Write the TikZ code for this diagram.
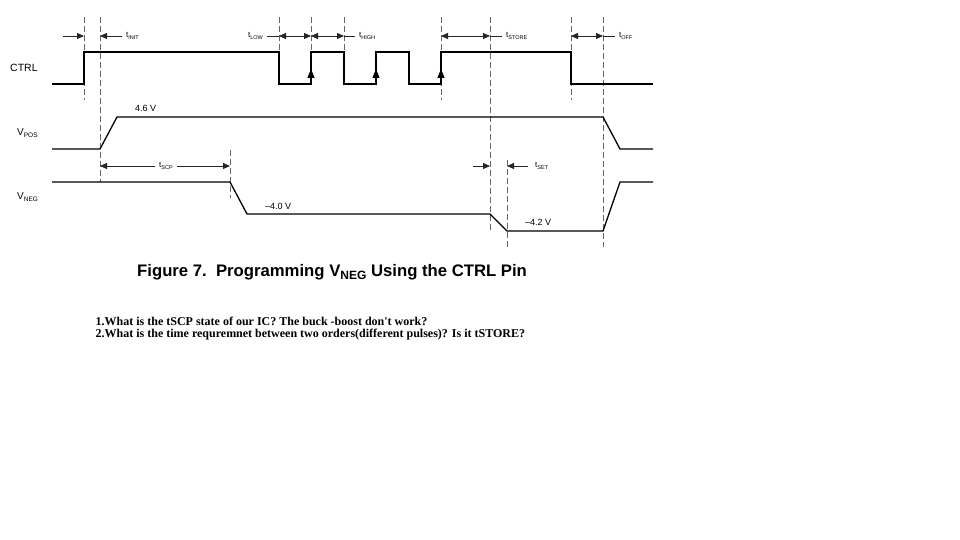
\documentclass[tikz,border=0pt]{standalone}
\usepackage{fontspec}
\setmainfont{Liberation Sans}
\newfontfamily\qfont{Liberation Serif}
\usetikzlibrary{arrows.meta}
\def\tsub#1{t\raisebox{-0.3ex}{\fontsize{5.5}{6}\selectfont #1}}
\def\vsub#1{V\raisebox{-0.3ex}{\fontsize{6.5}{7}\selectfont #1}}
\tikzset{
	sig/.style={line width=1.3pt, line join=miter},
	guide/.style={line width=0.9pt, color=black!60, dash pattern=on 6pt off 3pt},
	dim/.style={line width=0.9pt, color=black!85, -{Triangle[length=7pt,width=6pt]}},
	ddim/.style={line width=0.9pt, color=black!85, {Triangle[length=7pt,width=6pt]}-{Triangle[length=7pt,width=6pt]}},
	edge/.style={line width=1.3pt, -{Triangle[length=9pt,width=7pt]}},
	tlab/.style={font=\fontsize{8}{9}\selectfont, inner sep=0pt, anchor=west},
	vlab/.style={font=\fontsize{9}{10}\selectfont, inner sep=0pt},
}

\begin{document}
\begin{tikzpicture}[x=1pt, y=-1pt]
		\useasboundingbox[fill=white] (0, 0) rectangle (960, 540);
		%%%%% START %%%%%
		
		% guide lines
		\draw[guide] (84, 17) -- (84, 100);
		\draw[guide] (100, 17) -- (100, 182);
		\draw[guide] (279, 17) -- (279, 52);
		\draw[guide] (311, 17) -- (311, 52);
		\draw[guide] (344, 17) -- (344, 52);
		\draw[guide] (441, 17) -- (441, 100);
		\draw[guide] (490, 17) -- (490, 232);
		\draw[guide] (571, 17) -- (571, 100);
		\draw[guide] (603, 17) -- (603, 247);
		\draw[guide] (230, 150) -- (230, 198);
		\draw[guide] (507, 160) -- (507, 247);
		
		% CTRL
		\node[vlab, anchor=west, font=\fontsize{10.5}{12}\selectfont] (ctrl) at (10, 68) {CTRL};
		\draw[sig] (52, 84) -- (84, 84) -- (84, 52) -- (279, 52) -- (279, 84) -- (311, 84) -- (311, 52)
			-- (344, 52) -- (344, 84) -- (376, 84) -- (376, 52) -- (409, 52) -- (409, 84) -- (441, 84)
			-- (441, 52) -- (571, 52) -- (571, 84) -- (653, 84);
		\foreach \x in {311, 376, 441}
			\draw[edge] (\x, 84) -- (\x, 69);
		
		% timing marks on top
		\draw[dim] (63, 36) -- (84, 36);
		\draw[dim] (122, 36) -- (100, 36);
		\node[tlab] (tinit) at (126, 36) {\tsub{INIT}};
		
		\node[tlab, anchor=east] (tlow) at (263, 36) {\tsub{LOW}};
		\draw[line width=0.9pt, color=black!85] (267, 36) -- (279, 36);
		\draw[ddim] (279, 36) -- (311, 36);
		\draw[ddim] (311, 36) -- (344, 36);
		\draw[line width=0.9pt, color=black!85] (344, 36) -- (355, 36);
		\node[tlab] (thigh) at (359, 36) {\tsub{HIGH}};
		
		\draw[ddim] (441, 36) -- (490, 36);
		\draw[line width=0.9pt, color=black!85] (490, 36) -- (502, 36);
		\node[tlab] (tstore) at (506, 36) {\tsub{STORE}};
		
		\draw[ddim] (571, 36) -- (603, 36);
		\draw[line width=0.9pt, color=black!85] (603, 36) -- (615, 36);
		\node[tlab] (toff) at (619, 36) {\tsub{OFF}};
		
		% VPOS
		\node[vlab, anchor=west, font=\fontsize{10}{12}\selectfont] (vpos) at (17, 133) {\vsub{POS}};
		\draw[sig] (52, 149) -- (100, 149) -- (117, 117) -- (603, 117) -- (620, 149) -- (653, 149);
		\node[vlab, anchor=west] (vhi) at (135, 108) {4.6 V};
		
		% tSCP and tSET
		\node[tlab, anchor=center] (tscp) at (166, 166) {\tsub{SCP}};
		\draw[dim] (tscp.west) ++(-4, 0) -- (100, 166);
		\draw[dim] (tscp.east) ++(4, 0) -- (230, 166);
		\draw[dim] (473, 166) -- (490, 166);
		\draw[dim] (528, 166) -- (507, 166);
		\node[tlab] (tset) at (535, 166) {\tsub{SET}};
		
		% VNEG
		\node[vlab, anchor=west, font=\fontsize{10}{12}\selectfont] (vneg) at (17, 197) {\vsub{NEG}};
		\draw[sig] (52, 182) -- (230, 182) -- (247, 214) -- (490, 214) -- (507, 231) -- (603, 231) -- (620, 182) -- (653, 182);
		\node[vlab, anchor=west] (vlo) at (265, 206) {--4.0 V};
		\node[vlab, anchor=west] (vset) at (525, 222) {--4.2 V};
		
		% caption and questions
		\node[anchor=base west, inner sep=0pt, font=\fontsize{16.7}{20}\selectfont\bfseries] (cap) at (137, 276)
			{Figure 7.\ \ Programming V\raisebox{-0.35ex}{\fontsize{12}{13}\selectfont NEG} Using the CTRL Pin};
		\node[anchor=base west, inner sep=0pt, font=\qfont\fontsize{12}{13}\selectfont\bfseries] (qa) at (95.5, 325)
			{1.What is the tSCP state of our IC? The buck -boost don't work?};
		\node[anchor=base west, inner sep=0pt, font=\qfont\fontsize{12}{13}\selectfont\bfseries] (qb) at (95.5, 337)
			{2.What is the time requremnet between two orders(different pulses)? Is it tSTORE?};
		
		%%%%% END %%%%%
	\end{tikzpicture}
\end{document}
